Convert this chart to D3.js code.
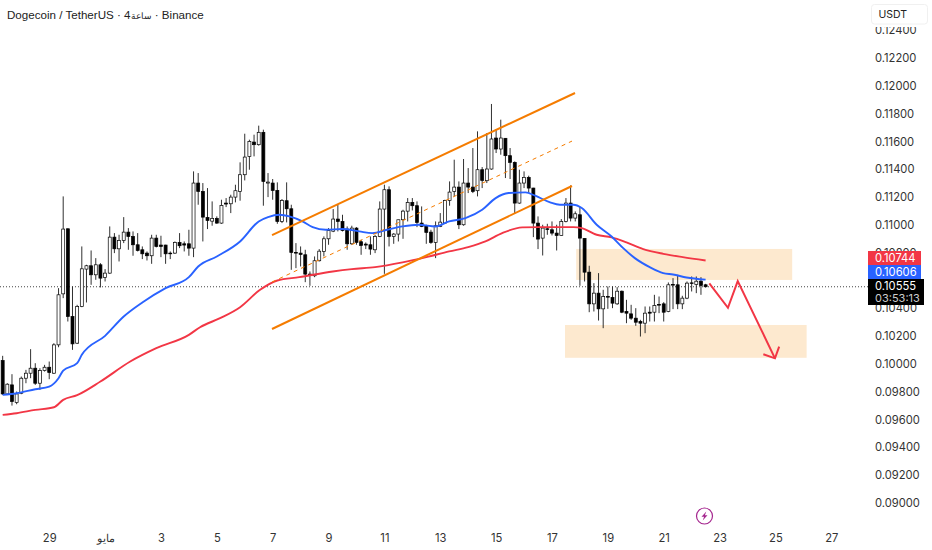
<!DOCTYPE html>
<html><head><meta charset="utf-8">
<script src="https://cdn.jsdelivr.net/npm/d3@7/dist/d3.min.js"></script>
<style>html,body{margin:0;padding:0;background:#fff}svg{display:block}</style>
</head><body><svg id="c" width="932" height="550"></svg>
<script>
// prices are stored in units of 0.00001 USDT
const UNIT = 1e-5;
const opens = [10024,9784,9849,9722,9789,9897,9933,9969,9861,9952,9976,9933,10137,10504,10972,10341,10149,10413,10682,10706,10641,10713,10622,10653,10912,10828,10888,10948,10917,10857,10821,10797,10778,10905,10855,10855,10797,10797,10874,10864,10864,10833,11301,11241,11054,11027,11047,11013,11157,11152,11200,11241,11361,11493,11596,11577,11666,11301,11301,11248,11025,11174,11116,10802,10797,10785,10646,10634,10742,10809,10900,10955,11042,11025,10970,10864,10977,10879,10862,10857,10821,10917,11114,11253,10917,10934,11037,11099,11162,11138,11013,10994,10948,10874,10989,11013,11176,11241,11272,11001,11301,11272,11246,11397,11318,11402,11625,11546,11623,11498,11450,11157,11301,11342,11265,11013,10905,10972,10965,10941,10924,11025,11157,11049,11073,10903,10660,10432,10509,10396,10485,10478,10432,10523,10377,10360,10329,10305,10293,10372,10372,10427,10432,10377,10571,10569,10432,10473,10583,10571,10595,10569];
const closes = [9784,9854,9729,9784,9897,9933,9969,9861,9952,9976,9938,10137,10497,10970,10341,10144,10413,10684,10706,10641,10713,10617,10653,10912,10828,10888,10948,10917,10857,10816,10792,10778,10905,10845,10845,10792,10792,10874,10850,10855,10833,11301,11241,11056,11032,11047,11013,11140,11150,11200,11246,11361,11488,11601,11577,11666,11313,11308,11248,11025,11176,11116,10802,10797,10787,10646,10639,10742,10811,10900,10960,11042,11025,10960,10864,10977,10874,10852,10855,10826,10917,11114,11253,10917,10934,11037,11099,11162,11138,11018,10989,10946,10874,10994,11020,11176,11236,11272,11001,11301,11272,11241,11397,11320,11402,11618,11546,11625,11498,11450,11157,11301,11342,11265,11013,10898,10977,10967,10941,10924,11025,11157,11049,11080,10905,10660,10432,10509,10396,10485,10480,10437,10523,10372,10365,10329,10300,10293,10365,10365,10420,10423,10372,10569,10567,10432,10473,10581,10579,10595,10564,10555];
const highs = [10058,9861,9926,9801,9909,9957,10106,10005,9969,9993,10017,10149,10545,11205,10975,10557,10425,10845,10713,10816,10761,10725,10682,10989,10941,10929,11056,10977,10953,10941,10845,10809,10929,10929,10922,10857,10809,10881,10941,10881,10965,11385,11373,11301,11265,11169,11061,11181,11193,11217,11289,11450,11656,11613,11649,11714,11685,11373,11330,11306,11186,11306,11145,10869,10845,10821,10665,10773,10826,10917,10977,11114,11145,11073,10989,10994,10984,10893,10874,10917,10929,11169,11289,11277,10941,11037,11109,11193,11193,11169,11133,11001,10965,11025,11085,11181,11313,11469,11313,11474,11409,11553,11673,11416,11661,11870,11690,11757,11625,11553,11457,11397,11385,11354,11267,11061,11001,11008,11025,11001,11042,11193,11284,11097,11128,10905,10706,10581,10653,10533,10557,10557,10552,10528,10461,10425,10401,10317,10413,10413,10497,10485,10444,10586,10617,10641,10490,10593,10629,10629,10624,10576];
const lows = [9777,9777,9700,9710,9782,9861,9897,9849,9813,9945,9890,9928,10120,10473,10305,10101,10144,10408,10442,10569,10605,10550,10593,10648,10797,10737,10869,10821,10778,10809,10754,10744,10720,10838,10768,10720,10754,10792,10833,10809,10778,10768,11145,10881,10970,10994,11008,11008,11128,11085,11162,11174,11320,11397,11493,11570,11138,11200,11181,11008,11013,11018,10677,10689,10701,10588,10562,10624,10737,10773,10857,10948,10953,10953,10821,10857,10857,10785,10826,10785,10797,10912,10648,10845,10864,10881,10900,11025,11104,10984,10984,10864,10864,10761,10984,11008,11138,11205,10970,10994,11229,11229,11205,11265,11301,11397,11517,11505,11337,11330,11080,11152,11265,11229,10912,10826,10780,10929,10924,10816,10922,11018,11025,11025,10562,10593,10372,10377,10312,10257,10396,10401,10425,10365,10293,10317,10274,10197,10221,10305,10305,10365,10305,10372,10394,10394,10394,10466,10521,10509,10497,10550];

const blueIdx = [0,3,7,10,12,13,16,17,22,26,30,35,40,42,46,51,55,57,59.5,61.6,64.4,66.6,69.4,73,76.6,79.4,82.6,85.9,89.4,93,95.9,99.4,103,105.9,108.7,112.3,114.4,117.6,119.7,122.6,124.4,127.6,130.8,133.3,135.8,139,141.9,144,146.9,151];
const blueVal = [9777,9789,9818,9837,9897,9952,10005,10065,10202,10341,10442,10545,10624,10701,10773,10881,11025,11056,11073,11061,11025,10984,10965,10970,10953,10941,10965,10989,11001,10989,11025,11049,11109,11193,11229,11234,11210,11162,11145,11145,11121,11001,10917,10833,10761,10696,10653,10643,10622,10606];
const redIdx = [0,3,7,11,13,16,21,27.4,33,40,42.4,46.7,51,55.3,59,63.7,70.9,75,80,85.9,91,95.9,100,103.7,107.3,111.6,115.4,122.6,124.4,127.6,130.8,134,137.6,141.9,146.1,151];
const redVal = [9633,9645,9669,9688,9741,9775,9873,10017,10113,10209,10264,10329,10408,10533,10600,10624,10665,10682,10696,10730,10768,10809,10840,10881,10941,10982,10984,10984,10977,10929,10910,10874,10826,10792,10768,10744];

const dayTickIdx = [10,22,34,46,58,70,82,94,106,118,130,142,154,166,178];
const dayTickLabels = ["29","مايو","3","5","7","9","11","13","15","17","19","21","23","25","27"];
const priceTicks = [0.090,0.092,0.094,0.096,0.098,0.100,0.102,0.104,0.106,0.108,0.110,0.112,0.114,0.116,0.118,0.120,0.122,0.124];

// drawings, as [candle index, price unit] pairs
const channelTop = [[57.86,10927],[122.95,11949]];
const channelMid = [[57.86,10589],[122.3,11603]];
const channelLow = [[57.86,10251],[122.3,11280]];
const zoneA = [123.2,169.6,10827,10604];
const zoneB = [120.8,172.7,10280,10044];
const arrowPath = [[151.8,10580],[155.8,10404],[157.9,10596],[165.9,10040]];
const arrowHead = [[163.4,10069],[165.9,10040],[166.8,10124]];

const priceTags = [
  {value:0.10744,color:"#f23645"},
  {value:0.10606,color:"#2962ff"}
];
const lastPrice = 0.10555, countdown = "03:53:13";

const svg = d3.select("#c");
const x = d3.scaleLinear().domain([0,178]).range([2.67,831.3]);
const y = d3.scaleLinear().domain([0.09,0.124]).range([502.9,30.3]);
const yU = v => y(v*UNIT);
const AXFONT = "Inter, 'Noto Sans', sans-serif";

// zones
[zoneA,zoneB].forEach(z=>{
  svg.append("rect").attr("x",x(z[0])).attr("width",x(z[1])-x(z[0]))
    .attr("y",yU(z[2])).attr("height",yU(z[3])-yU(z[2])).attr("fill","#fde9cf");
});

// last price line
svg.append("line").attr("x1",0).attr("x2",868).attr("y1",y(lastPrice)).attr("y2",y(lastPrice))
  .attr("stroke","#444").attr("stroke-width",1).attr("stroke-dasharray","1 2");

// candles
const g = svg.append("g");
const bw = 3.0;
opens.forEach((o,i)=>{
  const c = closes[i], up = c>=o, cx = x(i);
  g.append("line").attr("x1",cx).attr("x2",cx).attr("y1",yU(highs[i])).attr("y2",yU(lows[i]))
    .attr("stroke","#1a1a1a").attr("stroke-width",0.9);
  const t = yU(Math.max(o,c)), b = yU(Math.min(o,c));
  g.append("rect").attr("x",cx-bw/2).attr("width",bw).attr("y",t).attr("height",Math.max(b-t,0.6))
    .attr("fill",up?"#fff":"#000").attr("stroke","#000").attr("stroke-width",0.7);
});

// moving averages
const ma = d3.line().x(d=>x(d[0])).y(d=>yU(d[1])).curve(d3.curveMonotoneX);
svg.append("path").attr("d",ma(d3.zip(redIdx,redVal))).attr("fill","none").attr("stroke","#f23645").attr("stroke-width",1.9);
svg.append("path").attr("d",ma(d3.zip(blueIdx,blueVal))).attr("fill","none").attr("stroke","#2962ff").attr("stroke-width",1.9);

// channel
const ln = d3.line().x(d=>x(d[0])).y(d=>yU(d[1]));
svg.append("path").attr("d",ln(channelTop)).attr("fill","none").attr("stroke","#f57c00").attr("stroke-width",2);
svg.append("path").attr("d",ln(channelLow)).attr("fill","none").attr("stroke","#f57c00").attr("stroke-width",2);
svg.append("path").attr("d",ln(channelMid)).attr("fill","none").attr("stroke","#f57c00").attr("stroke-width",1).attr("stroke-dasharray","4 4");

// projected arrow
svg.append("path").attr("d",ln(arrowPath)).attr("fill","none").attr("stroke","#f23645").attr("stroke-width",2);
svg.append("path").attr("d",ln(arrowHead)).attr("fill","none").attr("stroke","#f23645").attr("stroke-width",2);

// axes
const yAxis = d3.axisRight(y).tickValues(priceTicks).tickSize(0).tickPadding(0).tickFormat(d3.format(".5f"));
const ya = svg.append("g").attr("transform","translate(875,0)").call(yAxis);
ya.select(".domain").remove();
ya.selectAll("text").attr("fill","#333").attr("font-family",AXFONT).attr("font-size",11.2);

const xAxis = d3.axisBottom(x).tickValues(dayTickIdx).tickSize(0).tickPadding(0).tickFormat((d,i)=>dayTickLabels[i]);
const xa = svg.append("g").attr("transform","translate(0,534)").call(xAxis);
xa.select(".domain").remove();
xa.selectAll("text").attr("fill","#333").attr("font-family",AXFONT).attr("font-size",11.2);

// title
const title = svg.append("text").attr("x",7).attr("y",19).attr("fill","#222")
  .attr("font-family","'Liberation Sans', Arial, sans-serif").attr("font-size",11.6);
title.append("tspan").text("Dogecoin / TetherUS · 4");
title.append("tspan").attr("font-size",8.5).text("ساعة");
title.append("tspan").text(" · Binance");

// currency button (its white base hides the top of the highest tick label)
svg.append("rect").attr("x",871).attr("y",20).attr("width",57).attr("height",7).attr("fill","#fff");
svg.append("rect").attr("x",871.5).attr("y",4.5).attr("width",56).attr("height",19.5).attr("rx",3)
  .attr("fill","#fff").attr("stroke","#f0f0f0");
svg.append("text").attr("x",878.5).attr("y",18).attr("fill","#222").attr("font-family",AXFONT).attr("font-size",10.5).text("USDT");

// price tags
const tagTop = [251,265];
priceTags.forEach((t,i)=>{
  svg.append("rect").attr("x",868).attr("y",tagTop[i]).attr("width",53).attr("height",14).attr("fill",t.color);
  svg.append("text").attr("x",875).attr("y",tagTop[i]+11).attr("fill","#fff").attr("font-family",AXFONT).attr("font-size",11.2).text(d3.format(".5f")(t.value));
});
svg.append("rect").attr("x",868).attr("y",279).attr("width",56).attr("height",26).attr("fill","#000");
svg.append("text").attr("x",875).attr("y",290).attr("fill","#fff").attr("font-family",AXFONT).attr("font-size",11.2).text(d3.format(".5f")(lastPrice));
svg.append("text").attr("x",875).attr("y",302).attr("fill","#ccc").attr("font-family",AXFONT).attr("font-size",11).text(countdown);

// bolt icon
const ic = svg.append("g").attr("transform","translate(704.5,516)");
ic.append("circle").attr("r",8).attr("fill","#fff").attr("stroke","#a5278f").attr("stroke-width",1.2);
ic.append("path").attr("d","M1.8,-4.5 L-3,0.8 L-0.4,0.8 L-1.8,4.5 L3,-0.8 L0.4,-0.8 Z").attr("fill","#a5278f");
</script></body></html>
